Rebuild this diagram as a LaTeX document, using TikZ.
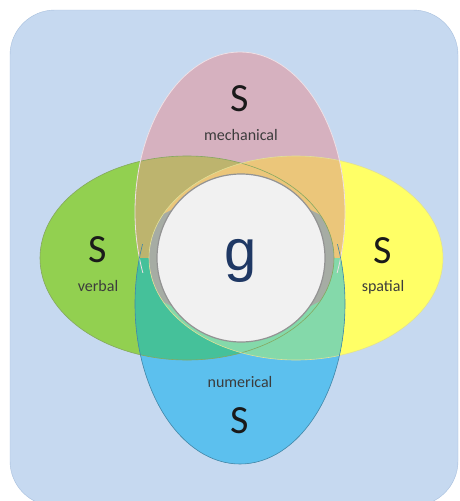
\documentclass[tikz,border=0pt]{standalone}
\usepackage{fontspec}
\setmainfont{Carlito}
\newfontfamily\gfont{Liberation Sans}

\definecolor{bgblue}{HTML}{C6D9F0}
\definecolor{bgline}{HTML}{A7BFDD}
\definecolor{mechpink}{HTML}{D6B1BF}
\definecolor{verbgreen}{HTML}{92D050}
\definecolor{spatyellow}{HTML}{FFFF66}
\definecolor{numblue}{HTML}{5CC0EE}
\definecolor{olive}{HTML}{BDB46E}
\definecolor{tan}{HTML}{EBC67A}
\definecolor{teal}{HTML}{45C19A}
\definecolor{mint}{HTML}{84D9AA}
\definecolor{crescent}{HTML}{A6ACA4}
\definecolor{gwhite}{HTML}{F1F1F1}
\definecolor{gnavy}{HTML}{1F3864}
\definecolor{ink}{HTML}{1A1A1A}

\tikzset{
  mechshape/.style={insert path={(240,212) ellipse [x radius=105, y radius=160]}},
  numshape/.style={insert path={(240,304) ellipse [x radius=105, y radius=160]}},
  verbshape/.style={insert path={(187,258) ellipse [x radius=147, y radius=102]}},
  spatshape/.style={insert path={(296,258) ellipse [x radius=147, y radius=102]}},
  bigS/.style={font=\fontsize{40}{40}\selectfont, text=ink, anchor=base, inner sep=0pt},
  tag/.style={font=\fontsize{16}{16}\selectfont, text=ink!85, anchor=base, inner sep=0pt}
}

\begin{document}
\begin{tikzpicture}[x=1pt, y=-1pt]

  \useasboundingbox (0,0) rectangle (460,501);
  \clip (0,0) rectangle (460,501);

  % background panel
  \draw[fill=bgblue, draw=bgline, rounded corners=45pt] (10,10) rectangle (458,506);

  % --- the two side ellipses ---
  \fill[verbgreen] [verbshape];
  \fill[spatyellow] [spatshape];

  % upper half: mechanical on top
  \begin{scope}
    \clip (0,0) rectangle (460,258);
    \fill[mechpink] [mechshape];
    \clip [mechshape];
    \fill[olive] [verbshape];
    \fill[tan] [spatshape];
  \end{scope}

  % lower half: numerical on top
  \begin{scope}
    \clip (0,258) rectangle (460,501);
    \fill[numblue] [numshape];
    \clip [numshape];
    \fill[teal] [verbshape];
    \fill[mint] [spatshape];
  \end{scope}

  % grey crescents beside the circle
  \begin{scope}
    \clip [verbshape];
    \clip [spatshape];
    \fill[crescent] (241,258) ellipse [x radius=110, y radius=62];
  \end{scope}

  % outlines
  \draw[verbgreen!70!black!80, line width=0.6pt] [verbshape];
  \draw[spatyellow!80!black!60, line width=0.6pt] [spatshape];
  \begin{scope}
    \clip (0,0) rectangle (460,272);
    \draw[white!60!mechpink, line width=0.8pt] [mechshape];
  \end{scope}
  \begin{scope}
    \clip (0,244) rectangle (460,501);
    \draw[numblue!70!black, line width=0.6pt] [numshape];
  \end{scope}

  % --- g in the middle ---
  \draw[fill=gwhite, draw=gray!85, line width=1.2pt] (241,258) circle (84);

  % --- labels ---
  \node[bigS] (smech) at (240,111) {S};
  \node[tag]  (lmech) at (241,140) {mechanical};

  \node[bigS] (sverb) at (98,262) {S};
  \node[tag]  (lverb) at (98,291) {verbal};

  \node[bigS] (sspat) at (383,263) {S};
  \node[tag]  (lspat) at (383,291) {spatial};

  \node[tag]  (lnum) at (240,387) {numerical};
  \node[bigS] (snum) at (240,433) {S};

  \node[font=\gfont\fontsize{58}{58}\selectfont, text=gnavy, anchor=base, inner sep=0pt] (g) at (241,270) {g};

\end{tikzpicture}
\end{document}
